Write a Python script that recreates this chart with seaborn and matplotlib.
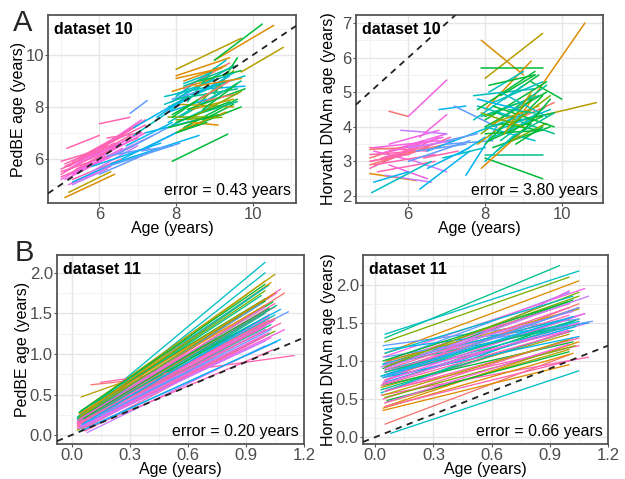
import pandas as pd
import seaborn as sns
import matplotlib.pyplot as plt
from matplotlib.ticker import MultipleLocator

# ---- data: one segment per subject (first visit -> last visit), colour group 0-11
# dataset 10, PedBE
d10p_age0 = [5.0, 5.0, 5.1, 5.1, 5.15, 6.0, 5.1, 5.2, 5.3, 5.4, 5.0, 5.5, 5.8, 5.2, 5.6, 6.0, 5.0, 5.3, 6.2,
             5.0, 5.2, 5.1, 5.4, 5.0, 5.7, 5.3, 6.1,
             5.3, 5.8, 6.4,
             5.3, 6.0, 6.3, 6.5, 6.8, 6.7, 7.2, 5.8, 6.9, 7.5, 6.2, 7.2, 6.0, 6.6, 6.9, 7.1, 5.1, 5.2,
             8.0, 8.0, 9.0, 9.7, 9.0, 7.9, 8.0, 7.9, 8.1, 7.8, 8.2, 8.0, 8.3, 8.5, 7.9, 8.2, 8.6, 8.1,
             7.8, 7.7, 8.4, 8.0, 8.7, 8.3, 7.9, 8.8, 8.4, 9.0, 8.1, 8.5, 7.8, 8.2, 7.9, 8.6, 8.0,
             8.0, 7.8, 8.2, 7.9, 8.0, 8.3, 8.1, 7.8, 8.5, 7.9, 8.4, 8.0, 8.6, 7.8, 8.2, 8.0, 8.7, 7.7]
d10p_age1 = [6.5, 6.8, 7.0, 6.2, 6.0, 6.8, 6.6, 7.1, 6.4, 7.2, 6.0, 6.9, 7.1, 6.3, 7.0, 7.2, 5.9, 6.6, 7.1,
             6.8, 7.0, 6.4, 6.9, 6.2, 7.1, 6.6, 7.2,
             6.2, 7.0, 7.4,
             6.5, 8.1, 8.6, 8.3, 7.25, 7.9, 8.4, 7.6, 8.0, 8.3, 7.3, 8.8, 7.4, 8.0, 8.3, 7.9, 6.4, 6.3,
             9.4, 9.7, 10.55, 10.8, 10.25, 9.35, 9.3, 9.5, 9.7, 9.2, 9.6, 9.7, 9.8, 9.5, 9.0, 9.4, 9.6, 9.3,
             8.8, 9.1, 9.8, 9.2, 9.5, 9.0, 8.9, 9.8, 9.1, 9.6, 9.5, 9.6, 9.0, 8.9, 8.6, 9.7, 8.8,
             9.5, 9.3, 9.6, 9.2, 9.4, 9.7, 9.0, 9.4, 9.7, 8.8, 9.5, 9.6, 9.4, 9.1, 9.3, 9.2, 9.6, 8.9]
d10p_ped0 = [5.6, 5.4, 5.5, 5.8, 6.4, 7.35, 5.2, 5.7, 5.9, 5.6, 5.3, 6.0, 6.2, 5.0, 5.9, 6.4, 5.9, 5.4, 6.8,
             5.2, 5.4, 5.7, 5.5, 5.5, 6.0, 5.2, 6.5,
             5.0, 5.5, 6.2,
             5.1, 5.6, 5.8, 6.2, 7.75, 6.5, 6.4, 5.7, 6.9, 7.6, 6.1, 7.0, 5.4, 6.0, 7.2, 6.3, 4.5, 4.7,
             9.2, 9.45, 9.8, 9.35, 9.8, 5.9, 8.4, 8.2, 7.6, 7.4, 7.2, 7.0, 7.9, 8.0, 8.6, 8.7, 8.2, 7.1,
             7.8, 8.1, 8.5, 7.5, 7.5, 8.2, 7.3, 8.7, 7.4, 8.5, 8.1, 7.7, 7.6, 8.9, 8.3, 9.0, 7.0,
             8.5, 8.0, 8.8, 7.7, 7.4, 7.5, 8.4, 7.9, 8.8, 7.6, 7.9, 8.3, 8.3, 7.2, 9.0, 9.1, 7.9, 8.4]
d10p_ped1 = [6.6, 6.9, 7.3, 6.5, 6.9, 7.6, 6.3, 7.4, 6.8, 7.0, 5.9, 7.2, 7.5, 5.7, 6.8, 7.3, 6.3, 6.4, 7.0,
             6.7, 7.0, 6.6, 6.5, 6.1, 7.0, 6.0, 7.5,
             5.6, 6.5, 6.9,
             5.9, 6.6, 6.9, 7.6, 8.25, 7.4, 7.3, 6.6, 8.0, 8.4, 6.4, 7.6, 6.3, 7.0, 8.4, 6.5, 5.4, 5.5,
             9.9, 10.65, 11.15, 10.3, 11.2, 6.95, 9.8, 9.6, 9.0, 8.6, 8.3, 8.0, 8.7, 9.4, 9.1, 9.7, 8.5, 7.8,
             8.3, 8.9, 9.2, 7.6, 8.1, 9.5, 8.0, 8.8, 7.3, 9.9, 8.0, 8.2, 7.6, 9.3, 8.6, 9.4, 7.4,
             9.3, 9.0, 9.6, 8.8, 8.2, 8.6, 9.1, 9.2, 9.1, 8.5, 8.3, 8.7, 9.0, 7.7, 9.6, 9.5, 8.9, 8.8]
d10p_grp = [11, 11, 10, 11, 11, 11, 10, 11, 11, 10, 11, 11, 10, 10, 11, 11, 11, 10, 11,
            10, 11, 11, 10, 11, 10, 11, 11,
            9, 9, 9,
            7, 8, 7, 8, 8, 7, 8, 7, 6, 7, 8, 7, 8, 7, 7, 8, 1, 2,
            1, 2, 1, 2, 4, 4, 6, 6, 5, 6, 4, 4, 4, 3, 1, 0, 0, 2,
            7, 6, 6, 3, 4, 5, 6, 7, 1, 4, 2, 5, 3, 6, 8, 4, 4,
            6, 6, 5, 4, 4, 3, 6, 7, 1, 4, 2, 5, 0, 4, 1, 1, 4, 6]

# dataset 10, Horvath
d10h_age0 = [5.0, 5.0, 5.0, 5.1, 5.0, 5.0, 5.2, 5.5, 6.0, 5.1, 5.5, 5.3, 6.0, 5.8, 6.3, 5.0, 6.2, 5.4,
             5.0, 5.1, 5.0, 5.3, 5.6, 5.0, 5.2, 6.0, 5.5, 6.4,
             5.05, 5.1, 6.3, 6.0, 6.8, 7.2, 6.5, 7.0, 7.5, 6.9, 6.5, 7.0, 7.3, 6.2,
             7.9, 8.0, 8.6, 7.9, 9.0, 8.0, 8.0, 9.2, 8.0, 7.7, 8.0, 7.9, 8.1, 7.8, 8.2, 8.4, 8.0, 8.5,
             7.8, 8.3, 8.6, 7.9, 8.2, 9.0, 8.0, 8.7, 8.1, 8.4,
             7.8, 8.0, 7.9, 8.1, 8.3, 7.7, 8.0, 8.2, 8.5, 7.9, 8.4, 8.0, 8.6, 7.8, 8.2, 8.3, 8.7,
             8.1, 8.0, 8.4, 8.8, 7.9, 8.5, 9.0, 8.2, 8.6]
d10h_age1 = [6.5, 7.0, 6.8, 6.2, 6.2, 6.4, 7.0, 6.0, 7.0, 6.7, 6.8, 6.3, 7.1, 7.0, 7.0, 6.0, 7.0, 6.6,
             6.3, 6.8, 6.5, 7.0, 6.9, 6.0, 6.7, 7.2, 6.5, 7.3,
             6.6, 6.0, 7.6, 7.6, 7.5, 8.3, 7.9, 8.2, 8.3, 8.0, 7.6, 7.8, 8.0, 7.5,
             9.0, 9.5, 10.6, 9.5, 10.9, 9.5, 9.5, 10.0, 9.2, 9.3, 9.6, 9.2, 9.8, 9.0, 9.7, 9.6, 9.3, 9.4,
             8.8, 9.8, 9.5, 9.0, 9.2, 9.8, 8.9, 9.6, 9.0, 9.4,
             9.3, 9.6, 9.4, 9.5, 9.7, 9.0, 9.2, 9.8, 9.6, 9.1, 9.3, 9.5, 9.7, 8.9, 9.4, 9.2, 9.8,
             9.3, 8.8, 9.6, 9.5, 9.0, 9.2, 9.7, 9.5, 9.3]
d10h_dnam0 = [3.4, 3.0, 2.8, 3.3, 2.65, 3.1, 3.2, 4.45, 4.3, 2.9, 3.5, 3.0, 3.2, 3.9, 3.7, 3.35, 3.0, 2.6,
              3.2, 3.4, 2.9, 3.1, 3.3, 3.0, 2.7, 3.4, 2.9, 3.1,
              2.1, 2.4, 2.2, 3.0, 4.5, 4.6, 3.3, 3.5, 2.6, 3.1, 2.8, 3.6, 3.2, 3.3,
              6.5, 5.4, 3.8, 5.7, 4.2, 3.1, 3.2, 5.3, 4.5, 4.9, 4.2, 3.8, 4.0, 4.6, 3.4, 3.6, 4.0, 4.8,
              3.5, 4.4, 3.9, 2.8, 3.7, 4.3, 4.3, 3.6, 5.0, 4.1,
              4.5, 4.0, 4.3, 3.6, 3.9, 4.2, 3.5, 4.6, 4.3, 3.9, 4.9, 3.8, 4.0, 4.8, 4.1, 3.3, 3.7,
              5.2, 3.0, 5.0, 3.5, 4.4, 3.8, 3.9, 4.7, 4.5]
d10h_dnam1 = [3.3, 3.5, 3.7, 3.0, 2.45, 3.6, 3.8, 4.3, 5.35, 3.2, 3.9, 3.5, 3.7, 3.8, 4.35, 3.4, 2.7, 2.4,
              3.3, 3.6, 3.4, 3.6, 3.7, 3.2, 3.0, 3.6, 2.5, 3.3,
              3.0, 2.7, 3.3, 3.6, 4.6, 4.0, 3.9, 3.6, 4.0, 3.4, 3.4, 3.8, 3.7, 3.5,
              5.5, 6.7, 7.0, 5.7, 4.7, 2.5, 3.2, 4.8, 5.9, 5.1, 5.3, 4.9, 4.4, 4.2, 4.0, 4.6, 3.6, 5.5,
              4.3, 3.8, 4.9, 3.9, 4.2, 4.7, 4.7, 4.1, 5.6, 3.9,
              5.6, 5.0, 4.9, 4.3, 4.5, 5.2, 4.8, 4.0, 5.2, 4.4, 5.5, 3.9, 4.9, 4.5, 4.6, 4.1, 4.4,
              5.5, 3.8, 4.3, 4.0, 4.0, 5.0, 4.8, 5.3, 4.4]
d10h_grp = [11, 0, 11, 10, 1, 0, 10, 0, 10, 11, 10, 11, 11, 9, 10, 0, 9, 9,
            11, 10, 0, 11, 10, 11, 11, 9, 10, 11,
            6, 7, 7, 8, 7, 8, 7, 8, 7, 6, 7, 8, 7, 8,
            1, 2, 1, 4, 2, 4, 5, 4, 1, 6, 4, 3, 4, 6, 4, 5, 6, 4,
            2, 5, 4, 1, 6, 0, 4, 3, 6, 4,
            4, 4, 5, 4, 6, 6, 4, 4, 5, 6, 4, 4, 3, 7, 2, 4, 5,
            4, 6, 6, 4, 3, 2, 4, 6, 5]

# dataset 11, PedBE
d11p_age0 = [0.03, 0.03, 0.05, 0.04, 0.03, 0.05, 0.04, 0.06, 0.03, 0.05, 0.04, 0.03, 0.05, 0.04, 0.06,
             0.03, 0.05, 0.04, 0.06, 0.03, 0.05, 0.04, 0.06, 0.03, 0.05, 0.07, 0.04, 0.05, 0.08, 0.06,
             0.15, 0.05, 0.10, 0.04, 0.05, 0.03, 0.04, 0.05, 0.04, 0.06, 0.03, 0.05, 0.07, 0.04, 0.05,
             0.06, 0.04, 0.05, 0.03, 0.06,
             0.04, 0.05, 0.03, 0.06, 0.04, 0.05, 0.04, 0.03, 0.05, 0.06, 0.04, 0.05, 0.03, 0.05, 0.04, 0.06]
d11p_age1 = [1.00, 1.00, 1.05, 1.02, 1.08, 1.03, 1.06, 1.00, 1.02, 1.10, 1.00, 1.05, 1.02, 1.08, 1.00,
             1.02, 1.12, 1.00, 1.05, 1.02, 1.00, 1.04, 1.00, 1.05, 1.02, 1.00, 1.03, 1.06, 1.00, 1.04,
             1.15, 0.30, 0.30, 1.00, 1.00, 0.98, 1.00, 1.05, 1.02, 1.00, 1.00, 1.03, 1.10, 1.05, 0.98,
             1.02, 1.08, 1.00, 1.02, 1.05,
             1.00, 1.04, 1.00, 1.06, 1.02, 1.00, 1.05, 1.02, 1.00, 1.04, 1.00, 1.08, 1.00, 1.03, 1.00, 1.02]
d11p_ped0 = [0.20, 0.18, 0.30, 0.22, 0.15, 0.25, 0.20, 0.27, 0.12, 0.18, 0.22, 0.16, 0.10, 0.24, 0.14,
             0.08, 0.20, 0.18, 0.12, 0.15, 0.08, 0.20, 0.10, 0.06, 0.14, 0.05, 0.10, 0.06, 0.03, 0.06,
             0.65, 0.47, 0.62, 0.26, 0.30, 0.22, 0.28, 0.18, 0.14, 0.22, 0.10, 0.16, 0.12, 0.20, 0.24,
             0.08, 0.04, 0.12, 0.20, 0.18,
             0.16, 0.20, 0.12, 0.18, 0.22, 0.10, 0.26, 0.14, 0.24, 0.20, 0.08, 0.16, 0.18, 0.12, 0.28, 0.14]
d11p_ped1 = [2.13, 2.00, 1.98, 1.85, 1.80, 1.88, 1.75, 1.78, 1.70, 1.75, 1.65, 1.62, 1.55, 1.55, 1.50,
             1.48, 1.52, 1.45, 1.42, 1.38, 1.35, 1.33, 1.30, 1.28, 1.25, 1.22, 1.20, 1.15, 1.10, 1.05,
             0.98, 0.68, 0.67, 1.60, 1.68, 1.72, 1.82, 1.58, 1.46, 1.52, 1.40, 1.36, 1.30, 1.44, 1.62,
             1.26, 1.18, 1.30, 1.56, 1.48,
             1.52, 1.40, 1.34, 1.60, 1.70, 1.24, 1.75, 1.42, 1.90, 1.64, 1.16, 1.38, 1.58, 1.30, 1.86, 1.48]
d11p_grp = [6, 6, 2, 5, 11, 1, 10, 3, 11, 0, 4, 11, 10, 7, 5, 11, 8, 4, 11, 10, 6, 9, 11, 3, 7, 11, 10, 8, 9, 11,
            11, 2, 0, 1, 4, 5, 6, 11, 10, 2, 11, 5, 10, 0, 8, 11, 7, 9, 4, 6,
            11, 10, 11, 5, 3, 10, 1, 11, 2, 4, 9, 11, 10, 8, 4, 7]

# dataset 11, Horvath
d11h_age0 = [0.05, 0.05, 0.05, 0.08, 0.05, 0.05, 0.04, 0.03, 0.05, 0.04, 0.05, 0.03, 0.05, 0.04, 0.05,
             0.06, 0.04, 0.05, 0.03, 0.05, 0.04, 0.06, 0.05, 0.04, 0.05, 0.03, 0.05, 0.04, 0.05, 0.06,
             0.04, 0.05, 0.03, 0.05, 0.04, 0.05, 0.06, 0.04, 0.05, 0.03, 0.05, 0.04, 0.05, 0.06, 0.04,
             0.05, 0.04, 0.05, 0.03, 0.05, 0.04, 0.06, 0.05, 0.04, 0.05, 0.03, 0.05, 0.04, 0.05, 0.06, 0.04]
d11h_age1 = [0.95, 1.05, 1.00, 1.05, 1.00, 1.05, 1.02, 1.10, 1.00, 1.05, 1.10, 1.00, 1.05, 1.02, 1.05,
             1.00, 1.08, 1.05, 1.00, 1.03, 1.00, 1.05, 1.00, 1.02, 1.05, 1.08, 1.00, 1.05, 1.10, 1.00,
             1.02, 1.05, 1.00, 1.03, 1.05, 1.00, 1.05, 1.00, 1.10, 1.02, 1.00, 1.05, 1.12, 1.00, 1.03,
             1.00, 1.05, 1.02, 1.00, 1.05, 1.00, 1.08, 1.02, 1.00, 1.05, 1.00, 1.02, 1.05, 1.00, 1.02, 1.00]
d11h_dnam0 = [1.30, 1.35, 1.25, 0.05, 0.17, 0.40, 0.50, 0.55, 0.60, 0.70, 0.75, 0.80, 0.85, 0.90, 0.95,
              1.00, 1.05, 1.10, 0.65, 0.72, 0.78, 0.62, 0.45, 0.38, 0.88, 0.92, 0.98, 1.20, 1.15, 0.82,
              0.68, 0.75, 0.58, 0.52, 0.95, 0.85, 1.00, 0.72, 0.90, 0.62, 0.40, 0.78, 1.05, 0.48, 0.96,
              0.88, 0.70, 0.95, 0.80, 0.60, 1.00, 0.75, 0.85, 0.55, 0.92, 0.68, 1.10, 0.78, 0.45, 0.82, 0.35]
d11h_dnam1 = [2.25, 2.18, 2.10, 0.87, 1.08, 1.25, 1.30, 1.05, 1.40, 1.55, 1.50, 1.65, 1.70, 1.80, 1.85,
              1.90, 1.95, 2.05, 1.35, 1.45, 1.55, 1.20, 1.15, 1.10, 1.52, 1.62, 1.75, 1.55, 1.50, 1.40,
              1.25, 1.75, 1.50, 1.20, 1.48, 1.60, 1.68, 1.92, 1.85, 1.40, 1.00, 1.32, 1.52, 1.12, 1.58,
              1.70, 1.50, 1.65, 1.45, 1.30, 1.78, 1.62, 1.52, 1.28, 1.90, 1.38, 1.85, 1.70, 1.22, 1.58, 0.95]
d11h_grp = [5, 6, 3, 6, 0, 1, 11, 11, 10, 4, 9, 6, 11, 4, 3, 8, 10, 1, 2, 7, 5, 11, 2, 1, 6, 9, 11, 8, 7, 10,
            4, 0, 6, 3, 5, 11, 2, 10, 9, 5, 11, 7, 8, 4, 6,
            11, 10, 9, 6, 11, 4, 10, 5, 2, 3, 11, 6, 8, 10, 7, 1]

hue_cols = ["#F8766D", "#DE8C00", "#B79F00", "#7CAE00", "#00BA38", "#00C08B",
            "#00BFC4", "#00B4F0", "#619CFF", "#C77CFF", "#F564E3", "#FF64B0"]


def to_long(age0, age1, val0, val1, grp):
    rows = []
    for i, (a0, a1, v0, v1, g) in enumerate(zip(age0, age1, val0, val1, grp)):
        rows.append((f"s{i}", g, a0, v0))
        rows.append((f"s{i}", g, a1, v1))
    return pd.DataFrame(rows, columns=["subject", "group", "age", "pred"])


sns.set_theme(style="white")
plt.rcParams["font.family"] = ["Liberation Sans", "DejaVu Sans"]

fig = plt.figure(figsize=(6.25, 4.79), dpi=100)

panels = [
    # data, axes rect, xlim, ylim, xticks, yticks, minor steps, ylabel x, ylabel, dataset, error, lw
    ((d10p_age0, d10p_age1, d10p_ped0, d10p_ped1, d10p_grp),
     [0.0768, 0.5762, 0.3968, 0.3925], (4.66, 11.13), (4.29, 11.55),
     [6, 8, 10], [6, 8, 10], 1, 1, -0.088, "PedBE age (years)", "dataset 10", "error = 0.43 years", 1.1),
    ((d10h_age0, d10h_age1, d10h_dnam0, d10h_dnam1, d10h_grp),
     [0.5696, 0.5762, 0.3952, 0.3925], (4.64, 11.07), (1.8, 7.23),
     [6, 8, 10], [2, 3, 4, 5, 6, 7], 1, 0.5, -0.08, "Horvath DNAm age (years)", "dataset 10",
     "error = 3.80 years", 1.1),
    ((d11p_age0, d11p_age1, d11p_ped0, d11p_ped1, d11p_grp),
     [0.0912, 0.0731, 0.3950, 0.3946], (-0.075, 1.2), (-0.11, 2.22),
     [0, 0.3, 0.6, 0.9, 1.2], [0, 0.5, 1.0, 1.5, 2.0], 0.15, 0.25, -0.11,
     "PedBE age (years)", "dataset 11", "error = 0.20 years", 0.95),
    ((d11h_age0, d11h_age1, d11h_dnam0, d11h_dnam1, d11h_grp),
     [0.5808, 0.0731, 0.3920, 0.3946], (-0.063, 1.2), (-0.09, 2.39),
     [0, 0.3, 0.6, 0.9, 1.2], [0, 0.5, 1.0, 1.5, 2.0], 0.15, 0.25, -0.112,
     "Horvath DNAm age (years)", "dataset 11", "error = 0.66 years", 0.95),
]

for data, rect, xlim, ylim, xt, yt, xminor, yminor, ylx, ylab, dname, err, lw in panels:
    ax = fig.add_axes(rect)
    df = to_long(*data)
    pal = {s: hue_cols[g] for s, g in zip(df["subject"], df["group"])}
    sns.lineplot(data=df, x="age", y="pred", hue="subject", units="subject", estimator=None,
                 sort=False, palette=pal, legend=False, linewidth=lw, ax=ax)
    ax.axline((0, 0), slope=1, color="#222222", linestyle=(0, (3.5, 3)), linewidth=1.3, zorder=5)
    ax.set_xlim(*xlim)
    ax.set_ylim(*ylim)
    ax.set_xticks(xt)
    ax.set_yticks(yt)
    ax.xaxis.set_minor_locator(MultipleLocator(xminor))
    ax.yaxis.set_minor_locator(MultipleLocator(yminor))
    if dname == "dataset 11":
        ax.set_xticklabels([f"{v:.1f}" for v in xt])
        ax.set_yticklabels([f"{v:.1f}" for v in yt])
    ax.grid(which="major", color="#E6E6E6", linewidth=1.0)
    ax.grid(which="minor", color="#F0F0F0", linewidth=0.6)
    ax.set_axisbelow(True)
    for sp in ax.spines.values():
        sp.set_color("#555555")
        sp.set_linewidth(1.3)
    ax.tick_params(axis="both", which="major", length=2, width=0.8, pad=1, color="#555555",
                   labelsize=12, labelcolor="#4D4D4D", bottom=True, left=True)
    ax.tick_params(which="minor", length=0)
    ax.set_xlabel("Age (years)", fontsize=11.5, labelpad=-1, color="black")
    ax.set_ylabel(ylab, fontsize=11.5, color="black")
    ax.yaxis.set_label_coords(ylx, 0.5)
    ax.text(0.025, 0.965, dname, transform=ax.transAxes, ha="left", va="top",
            fontsize=11.5, fontweight="bold", color="black", zorder=6)
    ax.text(0.98, 0.025, err, transform=ax.transAxes, ha="right", va="bottom",
            fontsize=11.5, color="black", zorder=6)

fig.text(0.021, 0.982, "A", fontsize=21, va="top", ha="left")
fig.text(0.024, 0.502, "B", fontsize=21, va="top", ha="left")

fig.savefig("out.png", dpi=100)
